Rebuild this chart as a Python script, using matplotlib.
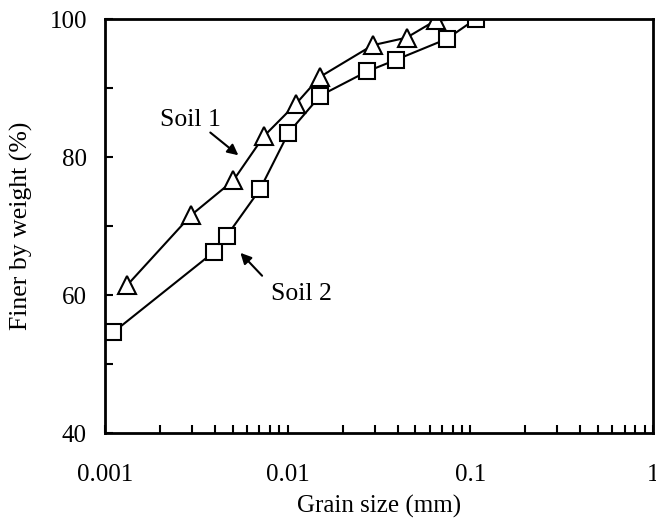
import matplotlib
matplotlib.use("Agg")
import matplotlib.pyplot as plt
from matplotlib.ticker import FixedLocator, LogLocator, NullFormatter

plt.rcParams['font.family'] = ['Liberation Serif', 'DejaVu Serif']

# Soil 1 (triangles)
soil1_size = [0.00132, 0.00297, 0.00504, 0.0074, 0.0111, 0.0150, 0.0292, 0.0448, 0.0647, 0.107]
soil1_finer = [61.4, 71.6, 76.6, 83.0, 87.7, 91.6, 96.2, 97.3, 99.8, 100.0]

# Soil 2 (squares)
soil2_size = [0.00111, 0.00393, 0.00465, 0.00705, 0.0101, 0.0151, 0.0272, 0.0393, 0.0742, 0.107]
soil2_finer = [54.6, 66.2, 68.6, 75.3, 83.5, 88.9, 92.4, 94.1, 97.1, 100.0]

xticks = [0.001, 0.01, 0.1, 1]
xtick_labels = ["0.001", "0.01", "0.1", "1"]
yticks = [40, 60, 80, 100]

fig = plt.figure(figsize=(6.56, 5.18), dpi=100)
ax = fig.add_axes([105/656, 1-433/518, 548/656, 414/518])

# last triangle sits under the last square, so no marker drawn for it
ax.plot(soil1_size, soil1_finer, color='black', lw=1.5, marker='^', ms=13,
        mfc='white', mec='black', mew=1.5, markevery=list(range(len(soil1_size) - 1)))
ax.plot(soil2_size, soil2_finer, color='black', lw=1.5, marker='s', ms=12,
        mfc='white', mec='black', mew=1.5)

ax.set_xscale('log')
ax.set_xlim(0.001, 1)
ax.set_ylim(40, 100)
ax.set_xticks(xticks)
ax.set_xticklabels(xtick_labels)
ax.xaxis.set_minor_locator(LogLocator(base=10, subs=range(2, 10)))
ax.xaxis.set_minor_formatter(NullFormatter())
ax.set_yticks(yticks)
ax.yaxis.set_minor_locator(FixedLocator([50, 70, 90]))

ax.tick_params(which='both', direction='in', top=False, right=False, width=1.5)
ax.tick_params(which='major', length=6)
ax.tick_params(which='minor', length=6)
ax.tick_params(axis='x', which='major', pad=22, labelsize=18)
ax.tick_params(axis='y', which='major', pad=13, labelsize=18)

for s in ax.spines.values():
    s.set_linewidth(2)

ax.set_xlabel("Grain size (mm)", fontsize=18)
ax.set_ylabel("Finer by weight (%)", fontsize=18.5)
ax.xaxis.set_label_coords(0.5, -0.178)
ax.yaxis.set_label_coords(-0.152, 0.5)
ax.xaxis.label.set_va('center')
ax.yaxis.label.set_va('center')

arrow = dict(arrowstyle='-|>', color='black', lw=1.5, mutation_scale=16)
ax.text(0.00292, 85.4, "Soil 1", fontsize=18.5, ha='center', va='center')
ax.annotate("", xy=(0.00552, 80.0), xytext=(0.00367, 83.8), arrowprops=arrow)
ax.text(0.01197, 60.2, "Soil 2", fontsize=18.5, ha='center', va='center')
ax.annotate("", xy=(0.00538, 66.4), xytext=(0.00742, 62.5), arrowprops=arrow)

fig.savefig("out.png", dpi=100)
